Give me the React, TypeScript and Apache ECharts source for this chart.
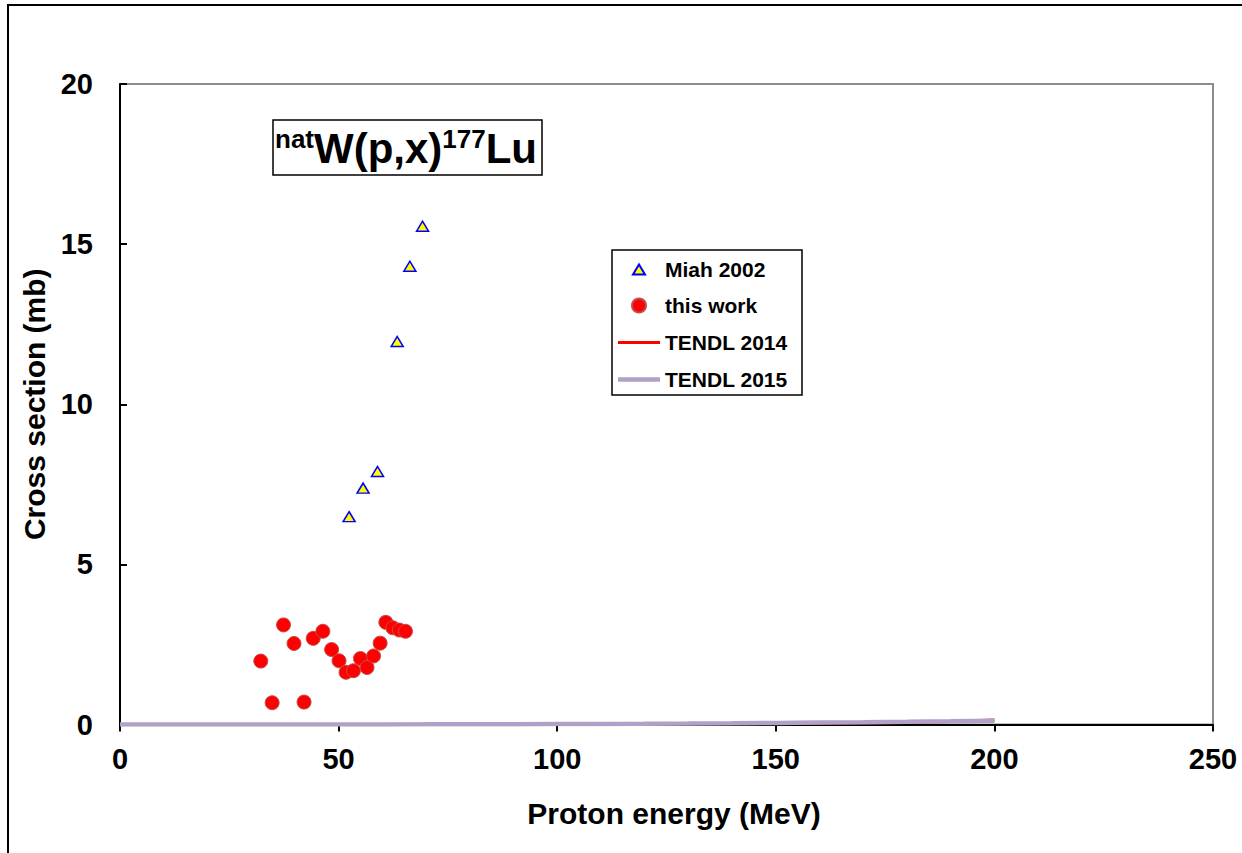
import React, { useEffect, useRef } from "react";
import * as echarts from "echarts";

const miahEnergy = [52.4, 55.6, 58.9, 63.4, 66.3, 69.2];
const miahXs = [6.49, 7.38, 7.9, 11.96, 14.31, 15.56];

const workEnergy = [32.2, 34.8, 37.4, 39.8, 42.1, 44.2, 46.4, 48.4, 50.1, 51.7, 53.4, 55.0, 56.5, 58.0, 59.5, 60.8, 62.4, 63.9, 65.3];
const workXs = [1.98, 0.68, 3.11, 2.53, 0.7, 2.69, 2.91, 2.34, 1.99, 1.63, 1.68, 2.06, 1.78, 2.14, 2.54, 3.19, 3.02, 2.95, 2.91];

const tendlEnergy = [0, 10, 20, 30, 40, 50, 60, 70, 80, 90, 100, 110, 120, 130, 140, 150, 160, 170, 180, 190, 200];
const tendl2014 = [0, 0, 0, 0, 0, 0, 0.002, 0.004, 0.006, 0.009, 0.012, 0.015, 0.019, 0.023, 0.028, 0.034, 0.042, 0.052, 0.065, 0.09, 0.14];
const tendl2015 = [0, 0, 0, 0, 0, 0, 0.002, 0.004, 0.007, 0.01, 0.014, 0.019, 0.025, 0.032, 0.04, 0.05, 0.06, 0.072, 0.085, 0.1, 0.12];

const legendNames = ["Miah 2002", "this work", "TENDL 2014", "TENDL 2015"];

const xTicks = { min: 0, max: 250, interval: 50 };
const yTicks = { min: 0, max: 20, interval: 5 };

const zip = (a: number[], b: number[]) => a.map((v, i) => [v, b[i]]);

const FONT = "Arial, 'Liberation Sans', sans-serif";

const legendText = { fontSize: 21, fontWeight: "bold", color: "#000", fontFamily: FONT };

function legendItem(name: string, left: number, centerY: number, icon: string, itemHeight: number) {
  return {
    orient: "vertical",
    left,
    top: centerY - 11,
    padding: 0,
    itemWidth: 42,
    itemHeight,
    symbolKeepAspect: true,
    selectedMode: false,
    textStyle: legendText,
    data: [{ name, icon }],
  };
}

export default function App() {
  const ref = useRef<HTMLDivElement>(null);
  useEffect(() => {
    if (!ref.current) return;
    const chart = echarts.init(ref.current, undefined, { renderer: "svg" });
    chart.setOption({
      animation: false,
      backgroundColor: "#fff",
      textStyle: { fontFamily: FONT },
      grid: {
        left: 120,
        top: 84,
        right: 29,
        bottom: 128.5,
        show: true,
        borderColor: "#8c8c8c",
        borderWidth: 2,
      },
      xAxis: {
        type: "value",
        min: xTicks.min,
        max: xTicks.max,
        interval: xTicks.interval,
        name: "Proton energy (MeV)",
        nameLocation: "middle",
        nameGap: 74,
        nameTextStyle: { fontSize: 30, fontWeight: "bold", color: "#000", fontFamily: FONT, padding: [0, 0, 0, 15] },
        axisLine: { show: true, onZero: false, lineStyle: { color: "#000", width: 2 } },
        axisTick: { show: true, inside: false, length: 7, lineStyle: { color: "#000", width: 2 } },
        axisLabel: { margin: 20, fontSize: 29, fontWeight: "bold", color: "#000", fontFamily: FONT },
        splitLine: { show: false },
      },
      yAxis: {
        type: "value",
        min: yTicks.min,
        max: yTicks.max,
        interval: yTicks.interval,
        name: "Cross section (mb)",
        nameLocation: "middle",
        nameGap: 68,
        nameRotate: 90,
        nameTextStyle: { fontSize: 30, fontWeight: "bold", color: "#000", fontFamily: FONT },
        axisLine: { show: true, onZero: false, lineStyle: { color: "#000", width: 2 } },
        axisTick: { show: true, inside: true, length: 7, lineStyle: { color: "#000", width: 2 } },
        axisLabel: { margin: 27, fontSize: 29, fontWeight: "bold", color: "#000", fontFamily: FONT },
        splitLine: { show: false },
      },
      legend: [
        legendItem(legendNames[0], 632, 270, "path://M6,0L12,10L0,10Z", 10),
        legendItem(legendNames[1], 631, 306, "circle", 14),
        legendItem(legendNames[2], 618, 343, "path://M0,0H42V3H0Z", 12),
        legendItem(legendNames[3], 618, 380, "path://M0,0H42V4.5H0Z", 12),
      ],
      series: [
        {
          name: "TENDL 2014",
          type: "line",
          data: zip(tendlEnergy, tendl2014),
          symbol: "none",
          lineStyle: { color: "#ff0000", width: 3 },
          itemStyle: { color: "#ff0000" },
          z: 2,
        },
        {
          name: "TENDL 2015",
          type: "line",
          data: zip(tendlEnergy, tendl2015),
          symbol: "none",
          lineStyle: { color: "#b1a0c7", width: 4.5 },
          itemStyle: { color: "#b1a0c7" },
          z: 3,
        },
        {
          name: "Miah 2002",
          type: "scatter",
          data: zip(miahEnergy, miahXs),
          symbol: "triangle",
          symbolSize: [12, 10],
          itemStyle: { color: "#ffff00", borderColor: "#0000ff", borderWidth: 1.5, opacity: 1 },
          z: 5,
        },
        {
          name: "this work",
          type: "scatter",
          data: zip(workEnergy, workXs),
          symbol: "circle",
          symbolSize: 14,
          itemStyle: { color: "#ff0000", borderColor: "#c0504d", borderWidth: 1, opacity: 1 },
          z: 4,
        },
      ],
      graphic: [
        {
          type: "rect",
          silent: true,
          z: -10,
          shape: { x: 8, y: 5, width: 1260, height: 900 },
          style: { fill: "none", stroke: "#000", lineWidth: 2 },
        },
        {
          type: "rect",
          silent: true,
          z: -5,
          shape: { x: 612, y: 250, width: 190, height: 145 },
          style: { fill: "#fff", stroke: "#000", lineWidth: 1.5 },
        },
        {
          type: "rect",
          shape: { x: 273, y: 120, width: 269, height: 55 },
          style: { fill: "#fff", stroke: "#000", lineWidth: 1.5 },
          z: 10,
        },
        {
          type: "text",
          x: 406,
          y: 148,
          z: 11,
          style: {
            text: "{s|nat}{b|W(p,x)}{s|177}{b|Lu}",
            align: "center",
            verticalAlign: "middle",
            rich: {
              b: { fontSize: 42, fontWeight: "bold", fontFamily: FONT, fill: "#000", lineHeight: 44 },
              s: { fontSize: 26, fontWeight: "bold", fontFamily: FONT, fill: "#000", lineHeight: 26, verticalAlign: "top" },
            },
          },
        },
      ],
    });
    return () => chart.dispose();
  }, []);
  return (
    <div
      ref={ref}
      style={{ position: "absolute", left: 0, top: 0, width: 1242, height: 853 }}
    />
  );
}
